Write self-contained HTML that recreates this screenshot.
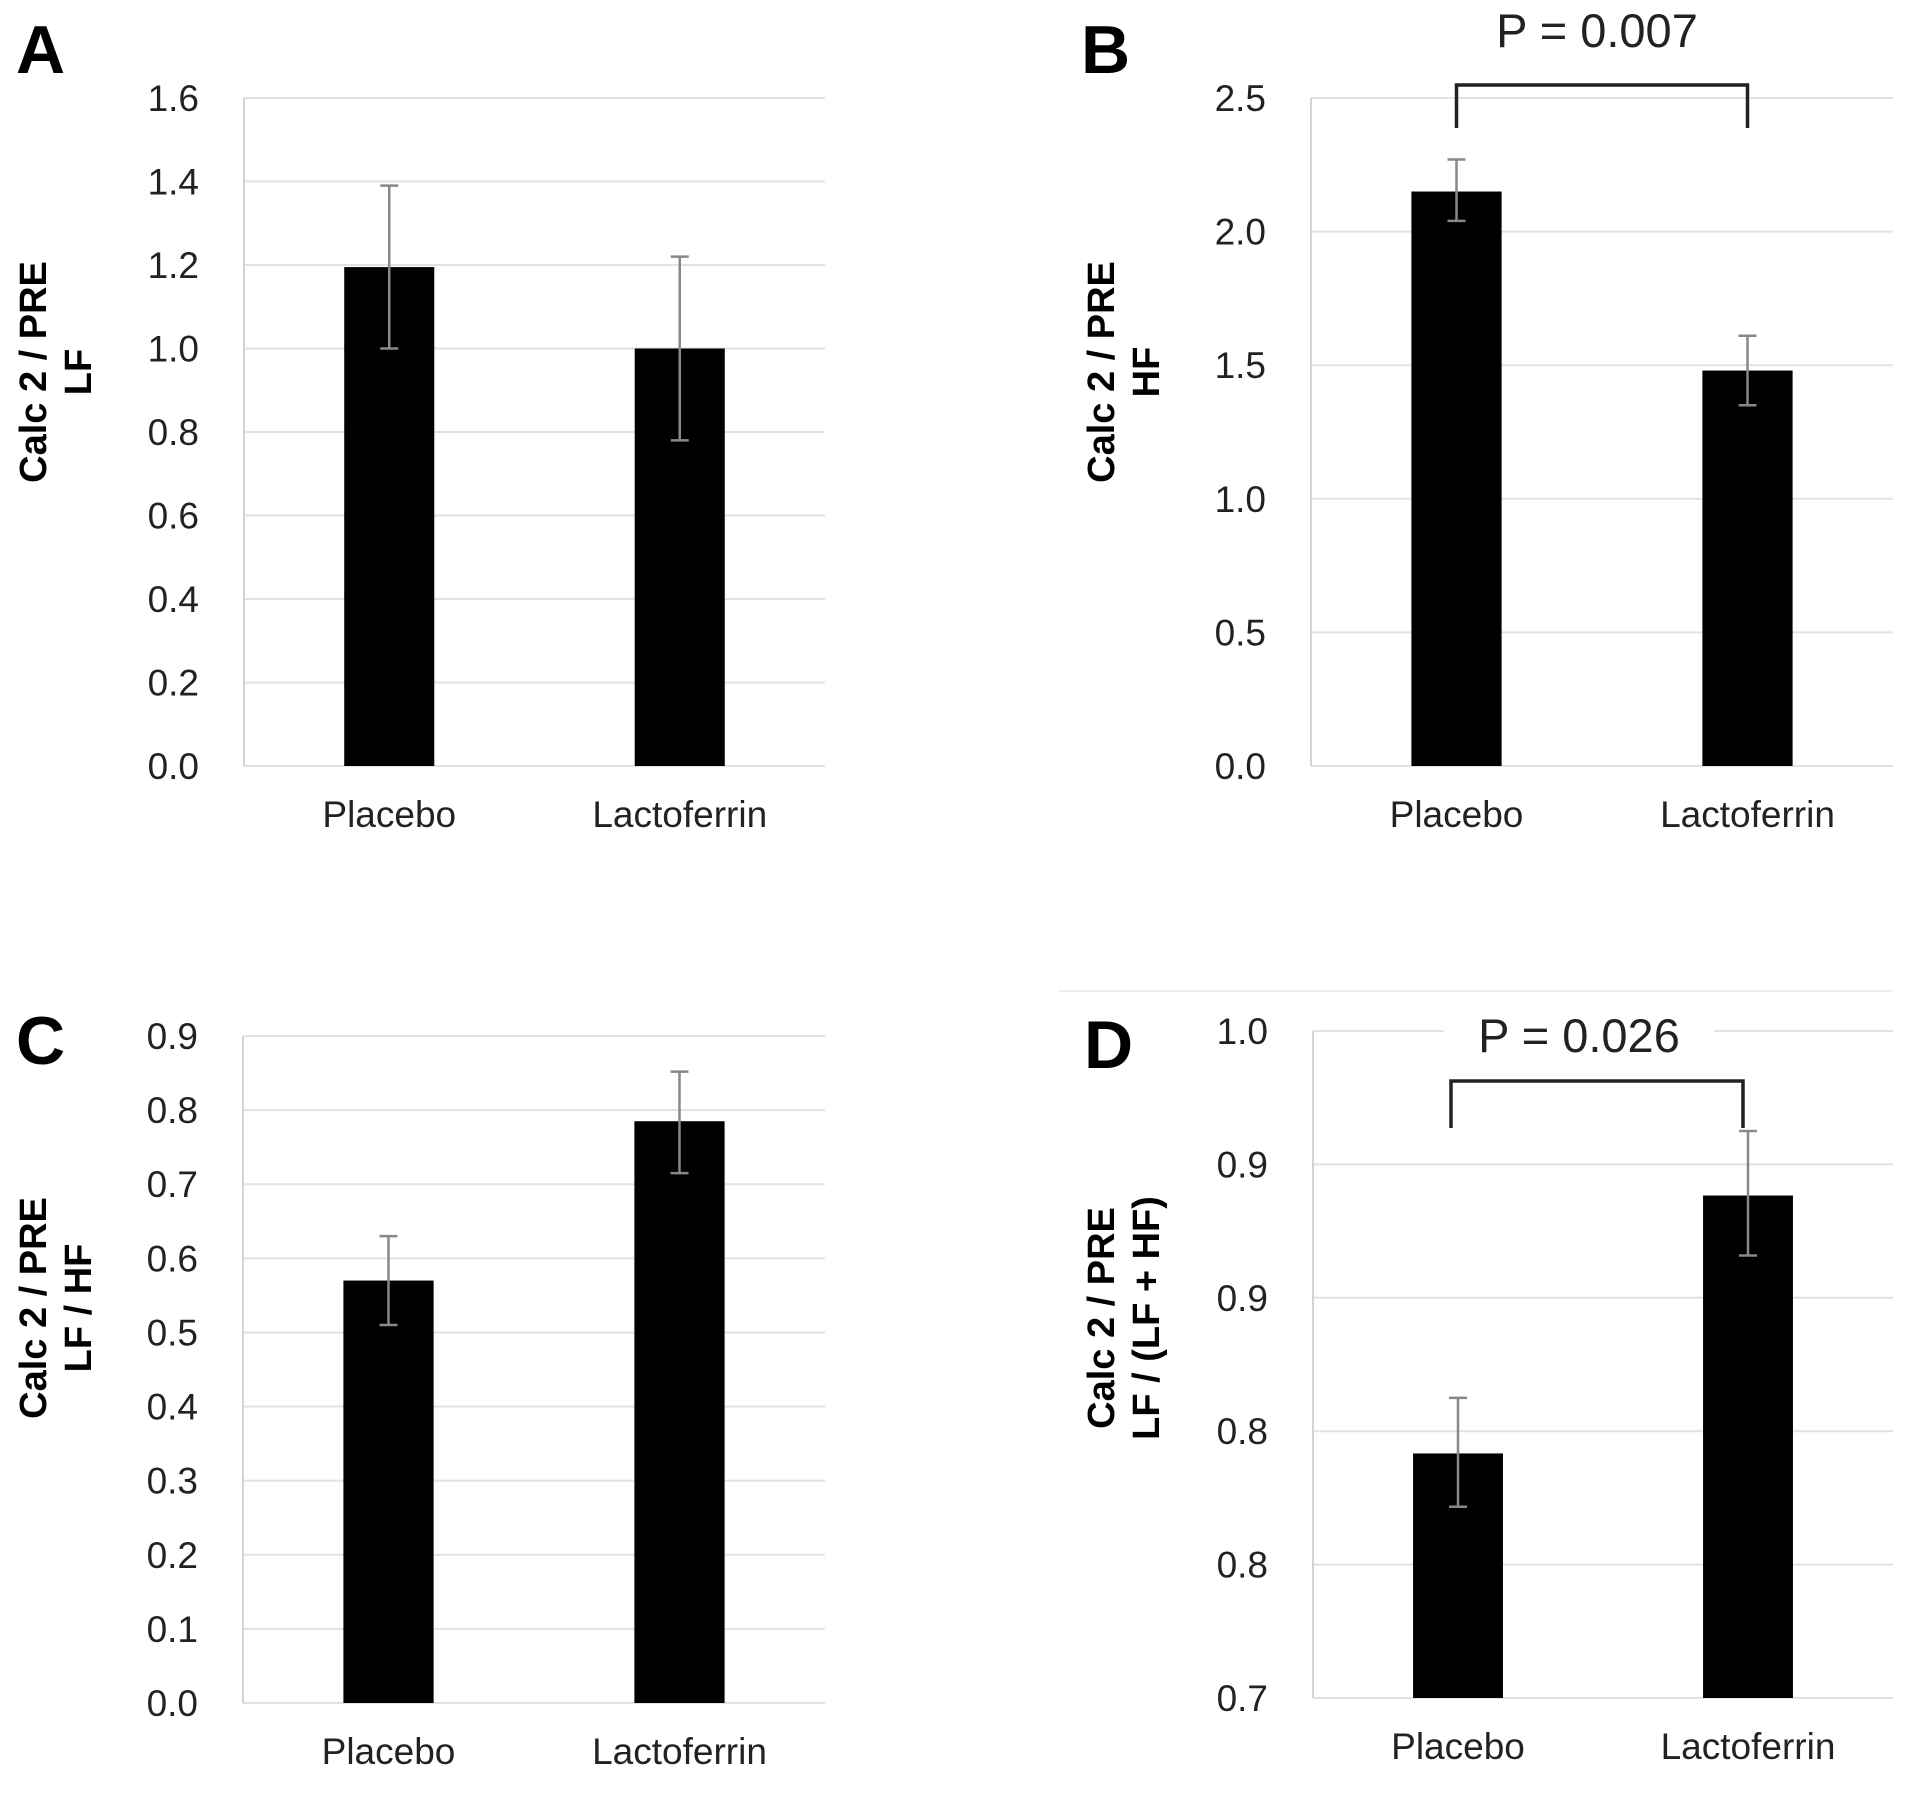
<!DOCTYPE html>
<html><head><meta charset="utf-8">
<style>
html,body{margin:0;padding:0;background:#fff;}
svg{display:block;font-family:"Liberation Sans",Arial,sans-serif;}
</style></head>
<body>
<svg id="fig" width="1913" height="1808" viewBox="0 0 1913 1808" xmlns="http://www.w3.org/2000/svg">
<line x1="1058" y1="991" x2="1893" y2="991" stroke="#f0f0f0" stroke-width="2"/>
</svg>
<script>
const categories = ["Placebo", "Lactoferrin"];
const valuesA = [1.195, 1.0];
const errLowA = [1.0, 0.78];
const errHighA = [1.39, 1.22];
const ticksA = [0, 0.2, 0.4, 0.6, 0.8, 1.0, 1.2, 1.4, 1.6];
const tickLabelsA = ["0.0","0.2","0.4","0.6","0.8","1.0","1.2","1.4","1.6"];
const valuesB = [2.15, 1.48];
const errLowB = [2.04, 1.35];
const errHighB = [2.27, 1.61];
const ticksB = [0, 0.5, 1.0, 1.5, 2.0, 2.5];
const tickLabelsB = ["0.0","0.5","1.0","1.5","2.0","2.5"];
const valuesC = [0.57, 0.785];
const errLowC = [0.51, 0.715];
const errHighC = [0.63, 0.852];
const ticksC = [0, 0.1, 0.2, 0.3, 0.4, 0.5, 0.6, 0.7, 0.8, 0.9];
const tickLabelsC = ["0.0","0.1","0.2","0.3","0.4","0.5","0.6","0.7","0.8","0.9"];
const valuesD = [0.810, 0.926];
const errLowD = [0.786, 0.899];
const errHighD = [0.835, 0.955];
const ticksD = [0.70, 0.76, 0.82, 0.88, 0.94, 1.0];
const tickLabelsD = ["0.7","0.8","0.8","0.9","0.9","1.0"];

const NS = "http://www.w3.org/2000/svg";
const svg = document.getElementById("fig");
function mk(tag, attrs, parent, text){
  const e = document.createElementNS(NS, tag);
  for (const k in attrs) e.setAttribute(k, attrs[k]);
  if (text !== undefined) e.textContent = text;
  (parent || svg).appendChild(e);
  return e;
}

function panel(p){
  const g = mk("g", {});
  
  
  const ymin = p.ticks[0], ymax = p.ticks[p.ticks.length-1];
  const y = v => p.bottom - (v - ymin) / (ymax - ymin) * (p.bottom - p.top);
  const bandW = (p.right - p.left) / p.cats.length;
  const xc = i => p.left + bandW * (i + 0.5);
  const barW = bandW * 0.31;
  p.ticks.forEach((t, i) => {
    const gl = mk("line", {x1:p.left, x2:p.right, y1:y(t), y2:y(t), stroke:"#e2e2e2", "stroke-width":2}, g);
    
    
    const tl = mk("text", {x:p.left - 45, y:y(t) + 13, "text-anchor":"end", "font-size":37, fill:"#222"}, g, p.tickLabels[i]);
    
    
  });
  const ax = mk("line", {x1:p.left, x2:p.left, y1:p.top, y2:p.bottom, stroke:"#d4d4d4", "stroke-width":2}, g);
  
  
  if (p.pText){
    const bg = mk("rect", {x:p.pX - 135, y:p.pY - 40, width:270, height:54, fill:"#fff"}, g);
    
    
    const pt = mk("text", {x:p.pX, y:p.pY + 17, "text-anchor":"middle", "font-size":47, fill:"#222"}, g, p.pText);
    
    
    const x0 = p.brX0 !== undefined ? p.brX0 : xc(0);
    const x1 = p.brX1 !== undefined ? p.brX1 : xc(1);
    const br = mk("path", {d:`M${x0},${p.brBottom} V${p.brTop} H${x1} V${p.brBottom}`, fill:"none", stroke:"#222", "stroke-width":3.5}, g);
    
    
  }
  p.cats.forEach((c, i) => {
    const b = mk("rect", {x:xc(i) - barW/2, y:y(p.values[i]), width:barW, height:p.bottom - y(p.values[i]), fill:"#000"}, g);
    
    
    const eg = mk("path", {d:`M${xc(i)},${y(p.errHigh[i])} V${y(p.errLow[i])} M${xc(i)-9},${y(p.errHigh[i])} H${xc(i)+9} M${xc(i)-9},${y(p.errLow[i])} H${xc(i)+9}`, stroke:"#888", "stroke-width":2.5, fill:"none"}, g);
    
    
    const xl = mk("text", {x:xc(i), y:p.bottom + 61, "text-anchor":"middle", "font-size":37, fill:"#222"}, g, c);
    
    
  });
  const lt = mk("text", {x:p.letterX, y:p.letterY, "font-size":68, "font-weight":"bold", fill:"#000"}, g, p.id);
  
  
  const yt = mk("text", {transform:`translate(${p.titleX},${p.titleY}) rotate(-90)`, "text-anchor":"middle", "font-size":38, "font-weight":"bold", fill:"#000"}, g);
  
  
  mk("tspan", {x:0, dy:0}, yt, "Calc 2 / PRE");
  mk("tspan", {x:0, dy:45}, yt, p.title2);
}

panel({id:"A", left:244, right:825, top:98, bottom:766, cats:categories, values:valuesA, errLow:errLowA, errHigh:errHighA, ticks:ticksA, tickLabels:tickLabelsA, letterX:16, letterY:73, titleX:46, titleY:372, title2:"LF"});
panel({id:"B", left:1311, right:1893, top:98, bottom:766, cats:categories, values:valuesB, errLow:errLowB, errHigh:errHighB, ticks:ticksB, tickLabels:tickLabelsB, letterX:1081, letterY:73, titleX:1114, titleY:372, title2:"HF", pText:"P = 0.007", pX:1597, pY:30, brTop:85, brBottom:128});
panel({id:"C", left:243, right:825, top:1036, bottom:1703, cats:categories, values:valuesC, errLow:errLowC, errHigh:errHighC, ticks:ticksC, tickLabels:tickLabelsC, letterX:16, letterY:1064, titleX:46, titleY:1308, title2:"LF / HF"});
panel({id:"D", left:1313, right:1893, top:1031, bottom:1698, cats:categories, values:valuesD, errLow:errLowD, errHigh:errHighD, ticks:ticksD, tickLabels:tickLabelsD, letterX:1084, letterY:1068, titleX:1114, titleY:1318, title2:"LF / (LF + HF)", pText:"P = 0.026", pX:1579, pY:1035, brTop:1081, brBottom:1128, brX0:1451, brX1:1743});
</script>
</body></html>
